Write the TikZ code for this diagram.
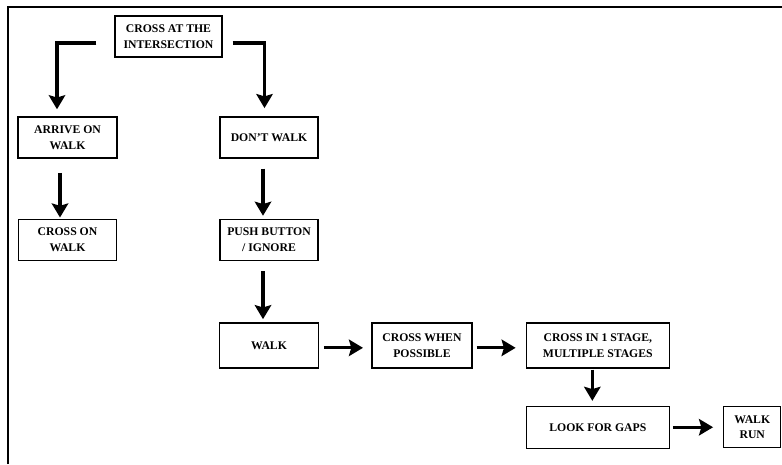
\documentclass[tikz,border=0pt]{standalone}
\usepackage{fontspec}
\setmainfont{Liberation Serif}
\usepackage{tikz}
\usetikzlibrary{positioning,arrows.meta}

\begin{document}
\begin{tikzpicture}[%
        x=0.03cm, y=-0.03cm,
        flowarrow/.style={%
          -{Stealth[length=12pt,width=14pt,inset=2pt]},
          line width=2.8pt
        },
        flowbox/.style={%
          rectangle,
          draw,
          line width=1.2pt,
          minimum width=2.95cm,
          minimum height=1.23cm,
          inner sep=2pt,
          align=center,
          font=\fontsize{10}{13.5}\selectfont\bfseries
        }
      ]
      \useasboundingbox (0,0) rectangle (782,464);
      % frame
      \draw[line width=2pt] (8,464) -- (8,7) -- (782,7);
      \node[flowbox,minimum width=3.21cm] (inter) at (168.5,36.5) {CROSS AT THE\\INTERSECTION};
      \node[flowbox,minimum width=2.97cm] (arrive) at (67.5,137.5) {ARRIVE ON\\WALK};
      \node[flowbox] (dont) at (269,137.5) {DON’T WALK};
      \node[flowbox] (crosson) [below=1.8cm of arrive] {CROSS ON\\WALK};
      \node[flowbox] (push) [below=1.8cm of dont] {PUSH BUTTON\\/ IGNORE};
      \node[flowbox,minimum width=2.97cm,minimum height=1.35cm] (walk) [below=1.83cm of push] {WALK};
      \node[flowbox,minimum width=3cm,minimum height=1.35cm] (crosswhen) [right=1.56cm of walk] {CROSS WHEN\\POSSIBLE};
      \node[flowbox,minimum width=4.29cm,minimum height=1.35cm] (stage) [right=1.59cm of crosswhen] {CROSS IN 1 STAGE,\\MULTIPLE STAGES};
      \node[flowbox,minimum width=4.29cm,minimum height=1.26cm] (gaps) [below=1.11cm of stage] {LOOK FOR GAPS};
      \node[flowbox,minimum width=1.71cm] (walkrun) [right=1.59cm of gaps] {WALK\\RUN};
      \draw[flowarrow,shorten >=6pt] ([shift={(-18,6.5)}]inter.west) -| ([shift={(-10.5,0)}]arrive.north);
      \draw[flowarrow,shorten >=7pt] ([shift={(10,6.5)}]inter.east) -| ([shift={(-4.5,0)}]dont.north);
      \draw[flowarrow,shorten <=12pt,shorten >=1pt] ([shift={(-7.5,0)}]arrive.south) -- ([shift={(-7.5,0)}]crosson.north);
      \draw[flowarrow,shorten <=8.5pt,shorten >=2.5pt] ([shift={(-6,0)}]dont.south) -- ([shift={(-6,0)}]push.north);
      \draw[flowarrow,shorten <=8.5pt,shorten >=2.5pt] ([shift={(-6,0)}]push.south) -- ([shift={(-6,0)}]walk.north);
      \draw[flowarrow,shorten <=4pt,shorten >=7pt] ([shift={(0,2.5)}]walk.east) -- ([shift={(0,2.5)}]crosswhen.west);
      \draw[flowarrow,shorten <=3.4pt,shorten >=8.5pt] ([shift={(0,2.5)}]crosswhen.east) -- ([shift={(0,2.5)}]stage.west);
      \draw[flowarrow,shorten <=1pt,shorten >=4pt] ([shift={(-5.5,0)}]stage.south) -- ([shift={(-5.5,0)}]gaps.north);
      \draw[flowarrow,shorten <=2.5pt,shorten >=8.5pt] (gaps.east) -- (gaps.east -| walkrun.west);
  \end{tikzpicture}
\end{document}
